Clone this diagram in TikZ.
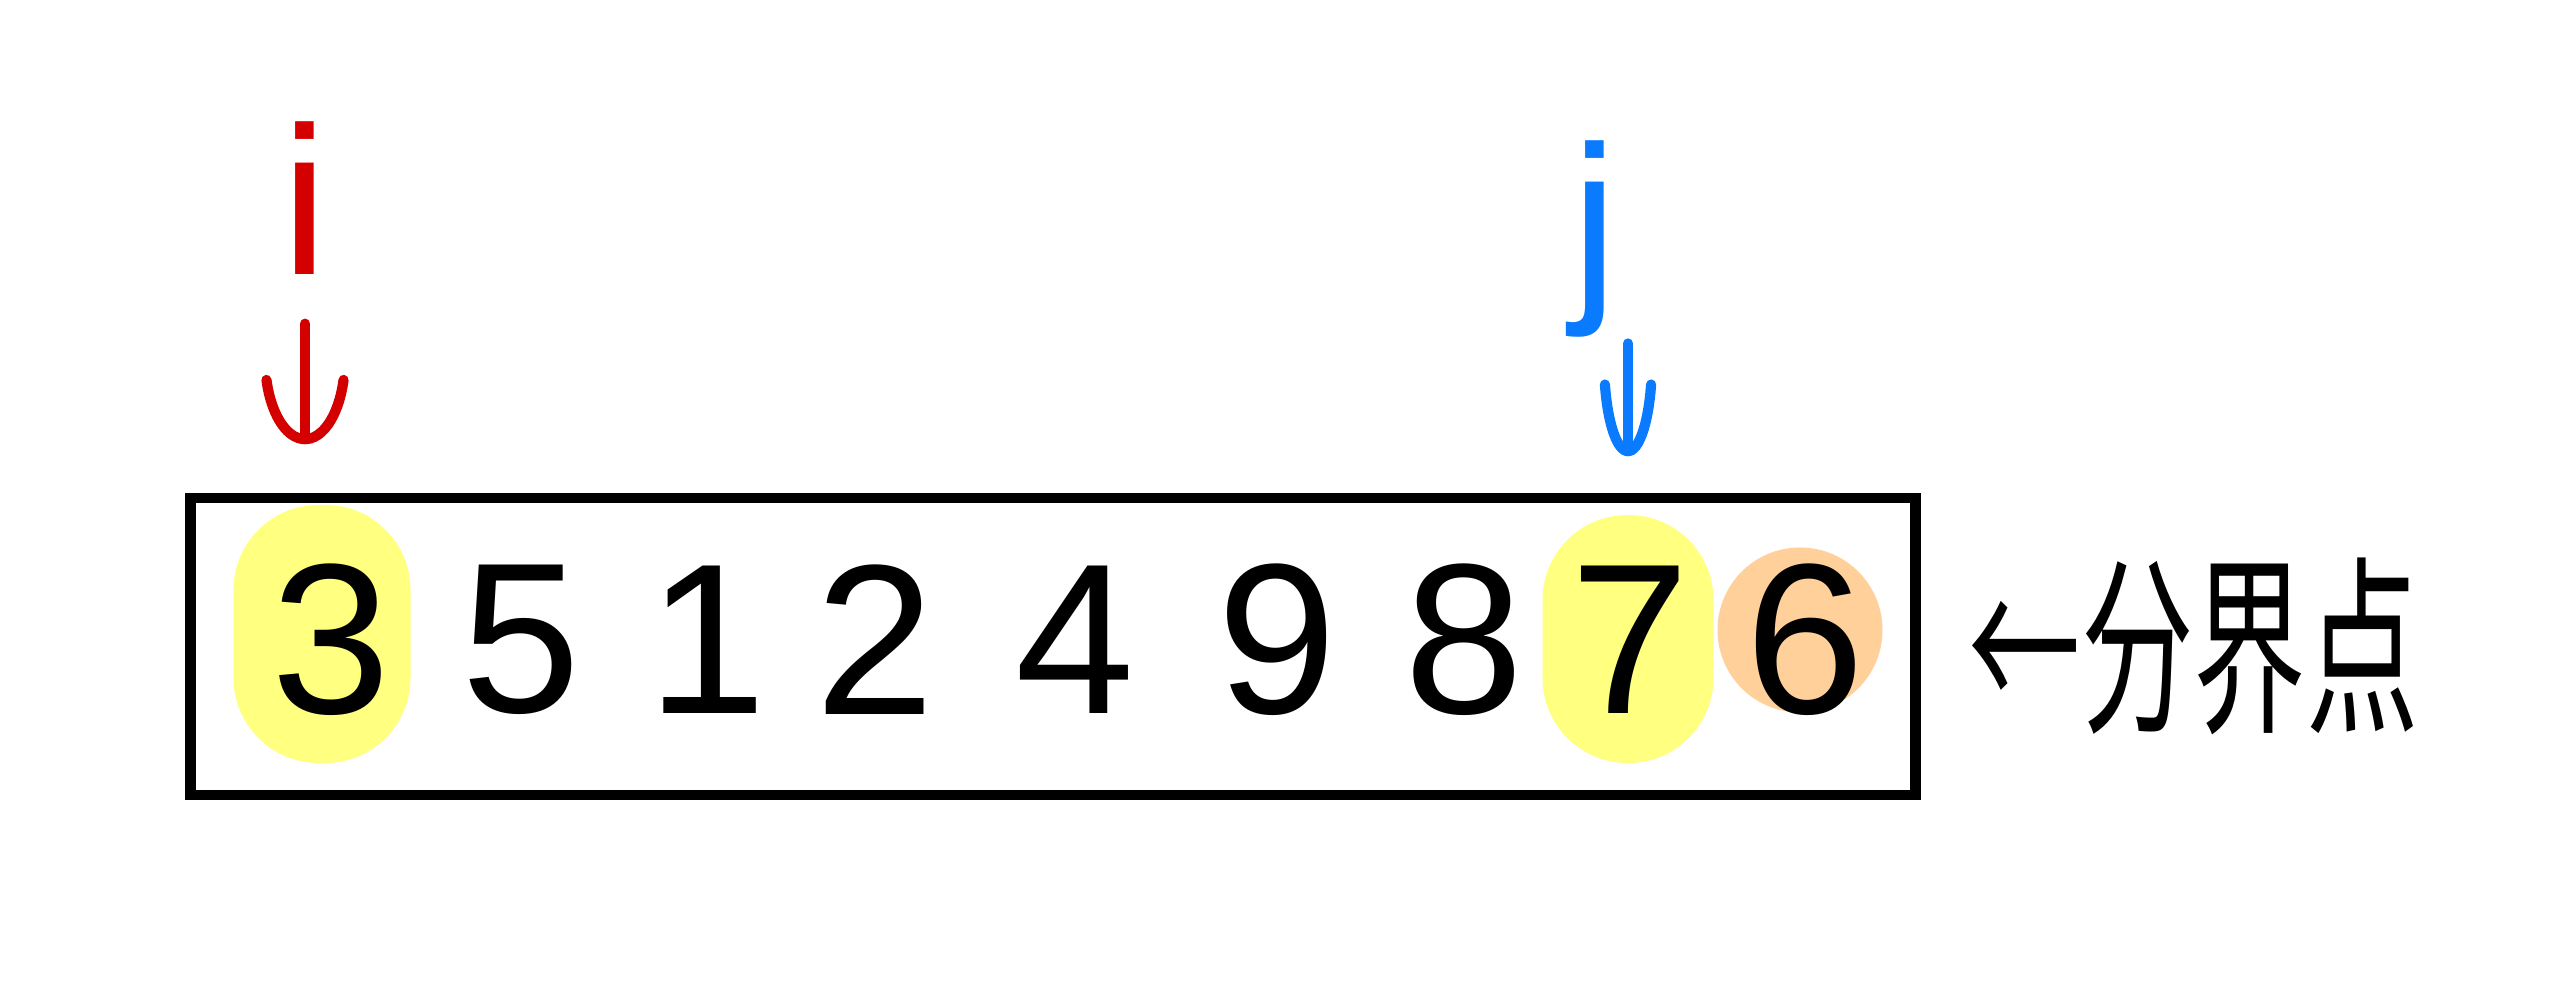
\documentclass[tikz,border=0pt]{standalone}
\usepackage{fontspec}
\usepackage{graphicx}
\setmainfont{Liberation Sans}
\newfontfamily\cjkfont{Noto Sans CJK SC}
\usetikzlibrary{arrows.meta,positioning,calc}
\definecolor{hlyellow}{HTML}{FFFF80}
\definecolor{hlorange}{HTML}{FFD09A}
\definecolor{ired}{HTML}{D40000}
\definecolor{jblue}{HTML}{0A7BFF}

\begin{document}
\begin{tikzpicture}[
        box/.style={draw, line width=3.1pt, minimum width=17.25cm, minimum height=2.97cm, inner sep=0pt},
        cell/.style={inner sep=0pt, font=\fontsize{61}{61}\selectfont},
        hlmark/.style={fill=hlyellow, rounded corners=0.85cm, inner sep=0pt},
        pivot/.style={circle, fill=hlorange, minimum size=1.65cm, inner sep=0pt},
        idx/.style={inner sep=0pt, anchor=base, font=\fontsize{60}{60}\selectfont},
        ptr/.style={line width=2.9pt, line cap=round}
    ]
        \useasboundingbox (0,0) rectangle (25.54,10);

        \node[box] (arr) at (10.53,3.535) {};

        \node[hlmark, minimum width=1.77cm, minimum height=2.58cm] (hl1) at (3.22,3.66) {};
        \node[hlmark, minimum width=1.71cm, minimum height=2.48cm] (hl8) at (16.28,3.61) {};
        \node[pivot] (hl9) at (18.00,3.70) {};

        \foreach \d/\x [count=\k] in {3/3.31,5/5.21,1/7.07,2/8.75,4/10.75,9/12.77,8/14.64,7/16.30,6/18.05}
            \node[cell] (n\k) at (\x,3.60) {\d};

        \node[idx, text=ired] (ilbl) at (3.05,7.25) {i};
        \node[idx, text=jblue] (jlbl) at (15.95,7.06) {j};

        \draw[ptr, ired, -{Arc Barb[arc=150, length=8.5mm, width=9mm, line cap=round]}, shorten <=0.48cm, shorten >=0.60cm]
            (ilbl.south) -- (ilbl.south |- hl1.north);
        \draw[ptr, jblue, -{Arc Barb[arc=150, length=9.5mm, width=5.8mm, line cap=round]}, shorten <=0.05cm, shorten >=0.58cm]
            (jlbl.south -| hl8.north) -- (hl8.north);

        \node[right=0.47cm of arr, inner sep=0pt, font=\cjkfont\fontsize{32}{32}\selectfont] (note)
            {\scalebox{1}[1.7]{←分界点}};
    \end{tikzpicture}
\end{document}
